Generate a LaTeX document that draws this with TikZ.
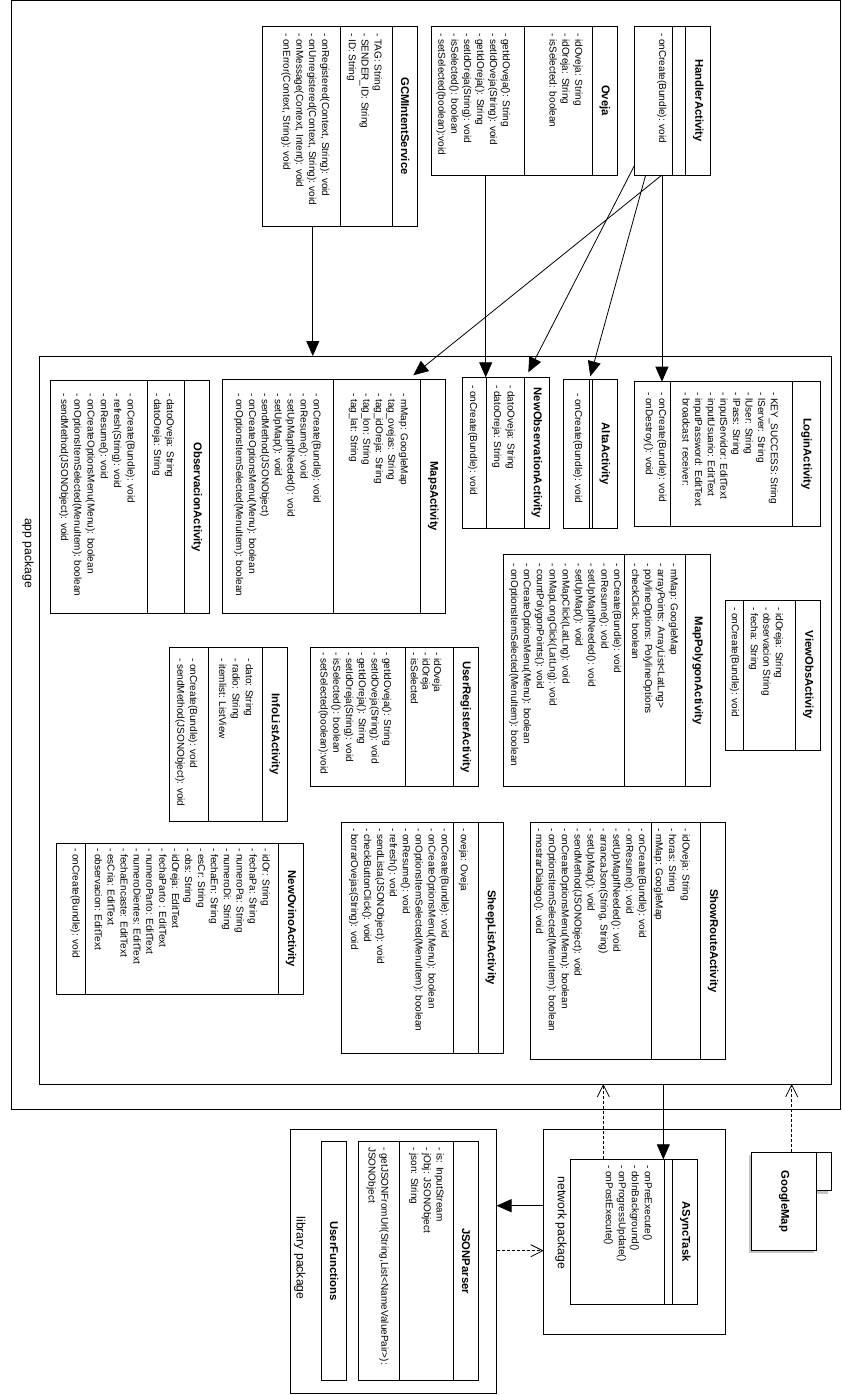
\documentclass[tikz,border=0pt]{standalone}
\usepackage{fontspec}
\setmainfont{Liberation Sans}
\usetikzlibrary{arrows.meta,shadows}

\begin{document}
\begin{tikzpicture}[x=1pt, y=-1pt,
    frame/.style={draw, line width=1pt, inner sep=0pt, outer sep=0pt, anchor=north west},
    classbox/.style={draw, line width=1pt, fill=white, inner sep=0pt, outer sep=0pt, anchor=north west},
    shadowed/.style={drop shadow={shadow xshift=-3pt, shadow yshift=-3pt, fill=black!45, opacity=.5}},
    title/.style={rotate=-90, inner sep=0pt, font=\fontsize{11.3}{13}\selectfont\bfseries},
    member/.style={rotate=-90, anchor=west, inner sep=0pt, text height=7pt, text depth=2pt, font=\fontsize{10}{12}\selectfont},
    pkglabel/.style={rotate=-90, inner sep=0pt, font=\fontsize{12.2}{14}\selectfont},
    assoc/.style={line width=.8pt, -{Triangle[length=15pt,width=13pt]}},
    dep/.style={line width=.8pt, dash pattern=on 3pt off 2pt, -{Straight Barb[length=12pt,width=12pt]}}]

    \useasboundingbox (0,0) rectangle (841,1395);

    % Packages
    \node[frame, minimum width=829pt, minimum height=1108.6pt] (outer) at (11,0.7) {};
    \node[frame, minimum width=792.5pt, minimum height=728pt] (app) at (39,356) {};
    \node[frame, minimum width=181.5pt, minimum height=204.7pt] (net) at (543.7,1129.3) {};
    \node[frame, minimum width=205.8pt, minimum height=264.5pt] (lib) at (290.7,1129.3) {};
    \node[pkglabel] (app-label) at (28,553) {app package};
    \node[pkglabel] (net-label) at (560.9,1223) {network package};
    \node[pkglabel] (lib-label) at (299.7,1258) {library package};

    % Classes
    \foreach \n/\x/\y/\w/\h/\hn/\ha/\cname in {
        Handler/634.7/26/76.1/149/25.2/12.9/HandlerActivity,
        Oveja/431.9/26/185.1/149/24.2/68.1/Oveja,
        GCM/262.9/26/154.5/200/24.7/52/GCMIntentService,
        Login/634.3/381.7/186.4/144.3/28.4/122.3/LoginActivity,
        Alta/563.3/379.3/54/149/25/3/AltaActivity,
        NewObs/462.3/377.3/87/151/25/38.3/NewObservationActivity,
        Maps/222.3/379.3/223.4/234/25/87.4/MapsActivity,
        Obs/50.3/380.7/159/232.6/25/37/ObservacionActivity,
        ViewObs/725/600/95.7/150/25/52.4/ViewObsActivity,
        MapPoly/503.3/554.5/207.4/232.2/25.7/60.7/MapPolygonActivity,
        UserReg/310.7/647.3/167.6/139.4/25/48/UserRegisterActivity,
        InfoList/169.3/647.3/118/173.7/25/54/InfoListActivity,
        NewOvino/56/843.3/247.3/151/24.6/193.7/NewOvinoActivity,
        SheepList/341.7/822.3/161.6/231/25/25/SheepListActivity,
        ShowRoute/530.7/822.3/194.6/237/24.6/49/ShowRouteActivity,
        ASync/570.5/1159.3/127.4/144.7/25.1/8.2/ASyncTask,
        JSON/358/1141.3/120.6/239.4/25.1/54.4/JSONParser,
        UserFunc/321.9/1141.3/24.3/239.4/24.3/0/UserFunctions
    } {
        \node[classbox, minimum width=\w*1pt, minimum height=\h*1pt] (\n) at (\x,\y) {};
        \draw[line width=1pt] ([xshift=-\hn*1pt]\n.north east) -- ([xshift=-\hn*1pt]\n.south east);
        \draw[line width=1pt] ([xshift=-\hn*1pt-\ha*1pt]\n.north east) -- ([xshift=-\hn*1pt-\ha*1pt]\n.south east);
        \node[title] (\n-title) at ([xshift=-\hn*0.5pt]\n.east) {\cname};
    }

    % GoogleMap package
    \node[classbox, shadowed, minimum width=14.3pt, minimum height=38.4pt] (GMap-tab) at (816.7,1152.3) {};
    \node[classbox, shadowed, minimum width=65pt, minimum height=97.7pt] (GMap) at (751.7,1152.3) {};
    \node[title] (GMap-title) at (GMap.center) {GoogleMap};

    % Members
    \foreach \txt [count=\i from 0] in {{- onCreate(Bundle): void}}
        \node[member] (Handler-m\i) at (661.5-12.9*\i,33) {\txt};
    \foreach \txt [count=\i from 0] in {{- idOveja: String}, {- idOreja: String}, {- isSelected: boolean}}
        \node[member] (Oveja-a\i) at (577.8-12.9*\i,33) {\txt};
    \foreach \txt [count=\i from 0] in {{- getIdOveja(): String}, {- setIdOveja(String): void}, {- getIdOreja(): String},
            {- setIdOreja(String): void}, {- isSelected(): boolean}, {- setSelected(boolean):void}}
        \node[member] (Oveja-m\i) at (505.4-12.9*\i,33) {\txt};
    \foreach \txt [count=\i from 0] in {{- TAG: String}, {- SENDER\_ID: String}, {- ID: String}}
        \node[member] (GCM-a\i) at (377.1-12.9*\i,33) {\txt};
    \foreach \txt [count=\i from 0] in {{- onRegistered(Context, String): void}, {- onUnregistered(Context, String): void},
            {- onMessage(Context, Intent): void}, {- onError(Context, String): void}}
        \node[member] (GCM-m\i) at (324.6-12.9*\i,33) {\txt};
    \foreach \txt [count=\i from 0] in {{- KEY\_SUCCESS: String}, {- lServer: String}, {- lUser: String}, {- lPass: String},
            {- inputServidor: EditText}, {- inputUsuario: EditText}, {- inputPassword: EditText}, {- broadcast~ receiver:}}
        \node[member] (Login-a\i) at (773.3-12.6*\i,392) {\txt};
    \foreach \txt [count=\i from 0] in {{- onCreate(Bundle): void}, {- onDestroy(): void}}
        \node[member] (Login-m\i) at (661.7-13.3*\i,392) {\txt};
    \foreach \txt [count=\i from 0] in {{- onCreate(Bundle): void}}
        \node[member] (Alta-m\i) at (577.7-12.9*\i,393) {\txt};
    \foreach \txt [count=\i from 0] in {{- datoOveja: String}, {- datoOreja: String}}
        \node[member] (NewObs-a\i) at (510-13.5*\i,385) {\txt};
    \foreach \txt [count=\i from 0] in {{- onCreate(Bundle): void}}
        \node[member] (NewObs-m\i) at (472.7-12.9*\i,385) {\txt};
    \foreach \txt [count=\i from 0] in {{- mMap: GoogleMap}, {- tag\_ovejas: String}, {- tag\_idOreja: String},
            {- tag\_lon: String}, {- tag\_lat: String}}
        \node[member] (Maps-a\i) at (403.3-12.5*\i,393) {\txt};
    \foreach \txt [count=\i from 0] in {{- onCreate(Bundle): void}, {- onResume(): void}, {- setUpMapIfNeeded(): void},
            {- setUpMap(): void}, {- sendMethod(JSONObject)}, {- onCreateOptionsMenu(Menu): boolean},
            {- onOptionsItemSelected(MenuItem): boolean}}
        \node[member] (Maps-m\i) at (316-12.9*\i,393) {\txt};
    \foreach \txt [count=\i from 0] in {{- datoOveja: String}, {- datoOreja: String}}
        \node[member] (Obs-a\i) at (169.3-12.7*\i,393) {\txt};
    \foreach \txt [count=\i from 0] in {{- onCreate(Bundle): void}, {- refresh(String): void}, {- onResume(): void},
            {- onCreateOptionsMenu(Menu): boolean}, {- onOptionsItemSelected(MenuItem): boolean},
            {- sendMethod(JSONObject): void}}
        \node[member] (Obs-m\i) at (130-13.3*\i,393) {\txt};
    \foreach \txt [count=\i from 0] in {{- idOreja: String}, {- observacion String}, {- fecha: String}}
        \node[member] (ViewObs-a\i) at (778.3-12.5*\i,607) {\txt};
    \foreach \txt [count=\i from 0] in {{- onCreate(Bundle): void}}
        \node[member] (ViewObs-m\i) at (734.3-12.9*\i,607) {\txt};
    \foreach \txt [count=\i from 0] in {{- mMap: GoogleMap}, {- arrayPoints: ArrayList<LatLng>},
            {- polylineOptions: PolylineOptions}, {- checkClick: boolean}}
        \node[member] (MapPoly-a\i) at (673.3-12.9*\i,563) {\txt};
    \foreach \txt [count=\i from 0] in {{- onCreate(Bundle): void}, {- onResume(): void}, {- setUpMapIfNeeded(): void},
            {- setUpMap(): void}, {- onMapClick(LatLng): void}, {- onMapLongClick(LatLng): void},
            {- countPolygonPoints(): void}, {- onCreateOptionsMenu(Menu): boolean},
            {- onOptionsItemSelected(MenuItem): boolean}}
        \node[member] (MapPoly-m\i) at (616.7-12.9*\i,563) {\txt};
    \foreach \txt [count=\i from 0] in {{- idOveja}, {- idOreja}, {- isSelected}}
        \node[member] (UserReg-a\i) at (436.7-11.7*\i,652) {\txt};
    \foreach \txt [count=\i from 0] in {{- getIdOveja(): String}, {- setIdOveja(String): void}, {- getIdOreja(): String},
            {- setIdOreja(String): void}, {- isSelected(): boolean}, {- setSelected(boolean):void}}
        \node[member] (UserReg-m\i) at (386.7-12.7*\i,652) {\txt};
    \foreach \txt [count=\i from 0] in {{- dato: String}, {- radio: String}, {- itemlist: ListView}}
        \node[member] (InfoList-a\i) at (248.3-13.3*\i,658) {\txt};
    \foreach \txt [count=\i from 0] in {{- onCreate(Bundle): void}, {- sendMethod(JSONObject): void}}
        \node[member] (InfoList-m\i) at (192.7-12.9*\i,658) {\txt};
    \foreach \txt [count=\i from 0] in {{- idOr: String}, {- fechaPa: String}, {- numeroPa: String}, {- numeroDi: String},
            {- fechaEn: String}, {- esCr: String}, {- obs: String}, {- idOreja: EditText}, {- fechaParto : EditText},
            {- numeroParto: EditText}, {- numeroDientes: EditText}, {- fechaEncaste: EditText}, {- esCria: EditText},
            {- observacion: EditText}}
        \node[member] (NewOvino-a\i) at (265-12.9*\i,848) {\txt};
    \foreach \txt [count=\i from 0] in {{- onCreate(Bundle): void}}
        \node[member] (NewOvino-m\i) at (75-12.9*\i,848) {\txt};
    \foreach \txt [count=\i from 0] in {{- oveja: Oveja}}
        \node[member] (SheepList-a\i) at (463.3-12.9*\i,828) {\txt};
    \foreach \txt [count=\i from 0] in {{- onCreate(Bundle): void}, {- onCreateOptionsMenu(Menu): boolean},
            {- onOptionsItemSelected(MenuItem): boolean}, {- onResume(): void}, {- refresh(): void},
            {- sendLista(JSONObject): void}, {- checkButtonClick(): void}, {- borrarOvejas(String): void}}
        \node[member] (SheepList-m\i) at (444-12.9*\i,828) {\txt};
    \foreach \txt [count=\i from 0] in {{- idOveja: String}, {- horas: String}, {- mMap: GoogleMap}}
        \node[member] (ShowRoute-a\i) at (685-13.3*\i,828) {\txt};
    \foreach \txt [count=\i from 0] in {{- onCreate(Bundle): void}, {- onResume(): void}, {- setUpMapIfNeeded(): void},
            {- arrancaJson(String, String)}, {- setUpMap(): void}, {- sendMethod(JSONObject): void},
            {- onCreateOptionsMenu(Menu): boolean}, {- onOptionsItemSelected(MenuItem): boolean},
            {- mostrarDialogo(): void}}
        \node[member] (ShowRoute-m\i) at (641.7-12.9*\i,828) {\txt};
    \foreach \txt [count=\i from 0] in {{- onPreExecute()}, {- doInBackground()}, {- onProgressUpdate()}, {- onPostExecute()}}
        \node[member] (ASync-m\i) at (647.3-13*\i,1165) {\txt};
    \foreach \txt [count=\i from 0] in {{- is: InputStream}, {- jObj: JSONObject}, {- json: String}}
        \node[member] (JSON-a\i) at (439.2-12.8*\i,1147) {\txt};
    \foreach \txt [count=\i from 0] in {{- getJSONFromUrl(String,List<NameValuePair>):}, {JSONObject}}
        \node[member] (JSON-m\i) at (383.8-12.6*\i,1147) {\txt};

    % Arrows
    \coordinate (gcm-out) at ([xshift=49.9pt]GCM.south west);
    \draw[assoc] (gcm-out) -- (gcm-out |- app.north);
    \coordinate (oveja-out) at ([xshift=53.8pt]Oveja.south west);
    \draw[assoc] (oveja-out) -- (oveja-out |- NewObs.north);
    \coordinate (h-out) at ([xshift=-10.8pt]Handler.south);
    \coordinate (h-left) at ([yshift=10pt]Handler.south west);
    \coordinate (h-mid) at ([xshift=11pt]Handler.south west);
    \draw[assoc] (h-out) -- (h-out |- Login.north);
    \draw[assoc] (h-out) -- ([xshift=-32.4pt,yshift=4pt]Maps.north east);
    \draw[assoc] (h-left) -- ([xshift=-21pt,yshift=5pt]NewObs.north east);
    \draw[assoc] (h-mid) -- ([xshift=-27pt,yshift=3pt]Alta.north east);
    \coordinate (async-in) at ([xshift=92.8pt]ASync.north west);
    \draw[assoc] (async-in |- app.south) -- (async-in);
    \coordinate (async-out) at ([xshift=32.8pt]ASync.north west);
    \draw[dep] (async-out) -- (async-out |- app.south);
    \coordinate (gmap-out) at ([xshift=40pt]GMap.north west);
    \draw[dep] (gmap-out) -- (gmap-out |- app.south);
    \coordinate (net-out) at ([yshift=-76.4pt]net.north west);
    \draw[assoc] (net-out) -- (net-out -| lib.east);
    \coordinate (lib-out) at ([yshift=-121.4pt]lib.north east);
    \draw[dep] (lib-out) -- (lib-out -| net.west);
\end{tikzpicture}
\end{document}
